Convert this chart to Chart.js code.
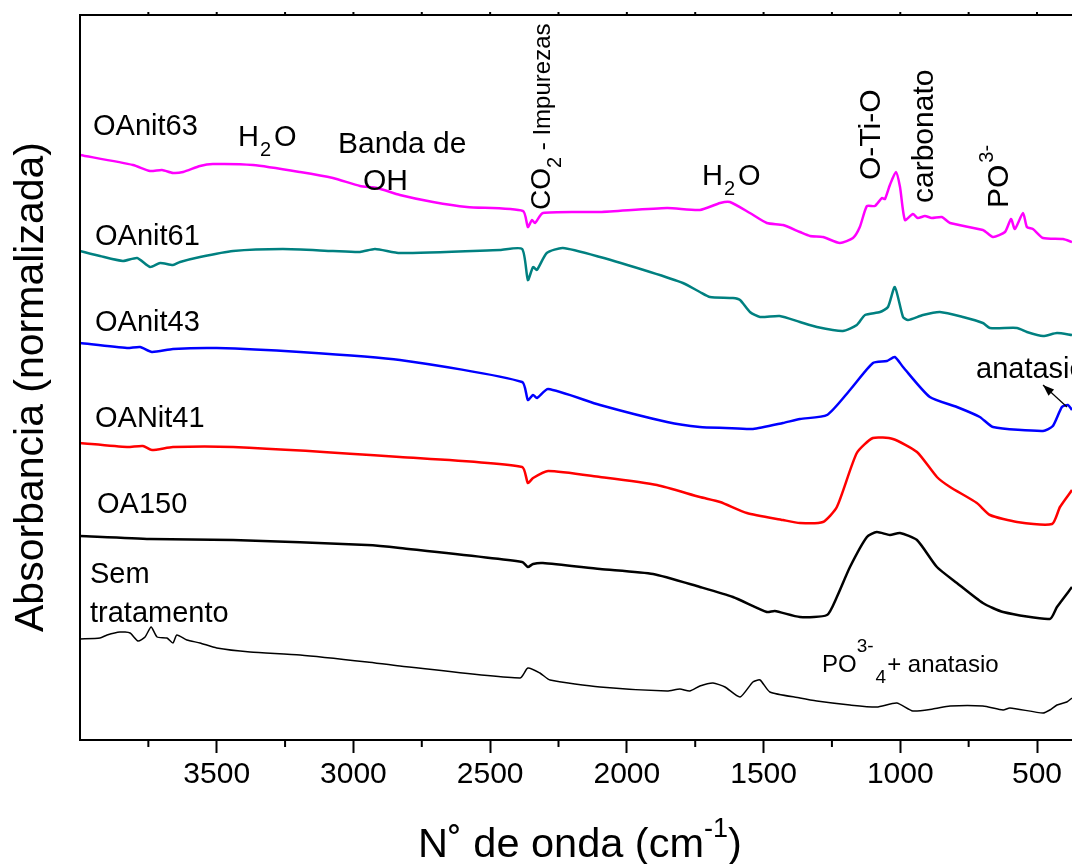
<!DOCTYPE html>
<html>
<head>
<meta charset="utf-8">
<script src="https://cdn.jsdelivr.net/npm/chart.js@4.4.1/dist/chart.umd.min.js"></script>
<style>
  body { margin: 0; background: #fff; }
  canvas { display: block; }
</style>
</head>
<body>
<canvas id="ftirChart" width="1072" height="864"></canvas>
<script>
var FONT = '"Liberation Sans", Arial, sans-serif';

// tick marks of the wavenumber axis
var xTicks = [3500, 3000, 2500, 2000, 1500, 1000, 500];
var xMinorTicks = [3750, 3250, 2750, 2250, 1750, 1250, 750];

// OAnit63 (magenta)
var wn63 = [4000, 3806, 3744, 3700, 3660, 3623, 3561, 3514, 3367, 3195, 3075, 2976, 2914, 2830, 2709, 2585, 2380, 2362, 2347, 2336, 2307, 2098, 1853, 1733, 1659, 1623, 1550, 1488, 1429, 1367, 1330, 1283, 1221, 1173, 1148, 1122, 1093, 1067, 1056, 1038, 1016, 1001, 983, 954, 936, 910, 885, 848, 818, 698, 661, 617, 595, 581, 551, 537, 515, 478, 405, 372];
var ab63 = [5.85, 5.75, 5.69, 5.70, 5.67, 5.68, 5.74, 5.76, 5.75, 5.68, 5.62, 5.54, 5.52, 5.45, 5.38, 5.33, 5.29, 5.13, 5.20, 5.17, 5.27, 5.28, 5.32, 5.30, 5.37, 5.38, 5.27, 5.17, 5.15, 5.08, 5.04, 5.03, 4.97, 5.02, 5.13, 5.34, 5.34, 5.42, 5.41, 5.55, 5.68, 5.53, 5.20, 5.26, 5.22, 5.24, 5.22, 5.23, 5.17, 5.10, 5.03, 5.08, 5.21, 5.11, 5.27, 5.13, 5.11, 5.02, 5.01, 4.98];

// OAnit61 (teal)
var wn61 = [4000, 3927, 3843, 3791, 3744, 3707, 3660, 3634, 3561, 3440, 3258, 3075, 2976, 2921, 2830, 2464, 2383, 2362, 2343, 2329, 2293, 2234, 2098, 1915, 1795, 1733, 1696, 1612, 1586, 1550, 1513, 1441, 1367, 1305, 1210, 1159, 1129, 1074, 1045, 1020, 990, 972, 917, 855, 771, 698, 672, 573, 537, 478, 427, 372];
var ab61 = [4.89, 4.84, 4.79, 4.82, 4.73, 4.77, 4.75, 4.78, 4.83, 4.89, 4.91, 4.89, 4.88, 4.91, 4.87, 4.90, 4.91, 4.60, 4.73, 4.70, 4.87, 4.92, 4.83, 4.68, 4.57, 4.48, 4.43, 4.42, 4.40, 4.28, 4.23, 4.24, 4.18, 4.13, 4.09, 4.15, 4.25, 4.28, 4.33, 4.53, 4.23, 4.20, 4.25, 4.28, 4.23, 4.17, 4.12, 4.12, 4.08, 4.04, 4.07, 4.05];

// OAnit43 (blue)
var wn43 = [4000, 3828, 3780, 3737, 3660, 3500, 3195, 2830, 2383, 2362, 2343, 2329, 2288, 2098, 1853, 1733, 1640, 1539, 1429, 1367, 1268, 1184, 1100, 1049, 1020, 990, 892, 793, 709, 661, 478, 442, 409, 387, 372];
var ab43 = [3.97, 3.92, 3.93, 3.88, 3.91, 3.92, 3.88, 3.80, 3.58, 3.40, 3.45, 3.42, 3.51, 3.35, 3.18, 3.13, 3.12, 3.11, 3.17, 3.21, 3.25, 3.50, 3.77, 3.79, 3.83, 3.73, 3.43, 3.33, 3.23, 3.13, 3.09, 3.14, 3.33, 3.35, 3.30];

// OANit41 (red)
var wn41 = [4000, 3828, 3770, 3737, 3660, 3440, 2830, 2383, 2362, 2343, 2288, 2098, 1890, 1733, 1659, 1561, 1429, 1367, 1283, 1232, 1159, 1100, 1027, 939, 866, 818, 720, 672, 573, 445, 416, 372];
var ab41 = [2.97, 2.93, 2.94, 2.90, 2.93, 2.93, 2.83, 2.73, 2.57, 2.62, 2.69, 2.63, 2.55, 2.43, 2.38, 2.27, 2.20, 2.17, 2.18, 2.33, 2.87, 3.02, 3.01, 2.88, 2.63, 2.53, 2.37, 2.25, 2.18, 2.16, 2.33, 2.50];

// OA150 (black)
var wn150 = [4000, 3744, 3440, 2950, 2830, 2383, 2362, 2343, 2307, 2098, 1904, 1733, 1612, 1488, 1459, 1367, 1268, 1232, 1184, 1122, 1086, 1038, 1001, 939, 866, 793, 698, 624, 453, 427, 372];
var ab150 = [2.04, 2.01, 2.00, 1.95, 1.92, 1.78, 1.73, 1.76, 1.77, 1.71, 1.66, 1.53, 1.43, 1.28, 1.29, 1.23, 1.25, 1.43, 1.73, 2.03, 2.08, 2.05, 2.07, 2.00, 1.73, 1.57, 1.37, 1.28, 1.21, 1.33, 1.53];

// Sem tratamento (thin black)
var wnSem = [4000, 3927, 3901, 3854, 3817, 3788, 3762, 3740, 3718, 3682, 3660, 3646, 3609, 3561, 3500, 3378, 3195, 2950, 2830, 2391, 2362, 2318, 2281, 2098, 1853, 1806, 1770, 1733, 1685, 1641, 1586, 1539, 1513, 1477, 1367, 1305, 1184, 1086, 1013, 954, 881, 818, 698, 624, 599, 478, 453, 427, 391, 372];
var abSem = [1.01, 1.02, 1.05, 1.08, 1.07, 0.99, 1.03, 1.13, 1.03, 1.02, 0.97, 1.05, 1.00, 0.97, 0.92, 0.88, 0.85, 0.78, 0.74, 0.62, 0.72, 0.67, 0.60, 0.53, 0.49, 0.51, 0.49, 0.54, 0.57, 0.53, 0.43, 0.58, 0.60, 0.48, 0.42, 0.39, 0.35, 0.33, 0.37, 0.29, 0.31, 0.34, 0.34, 0.30, 0.32, 0.27, 0.30, 0.35, 0.38, 0.42];

function pts(wn, ab) {
  return wn.map(function (w, i) { return { x: w, y: ab[i] }; });
}

function line(label, wn, ab, color, width) {
  return {
    label: label,
    data: pts(wn, ab),
    borderColor: color,
    borderWidth: width,
    pointRadius: 0,
    fill: false,
    tension: 0.2
  };
}

// draws a run of text pieces (sub/superscripts) along the baseline
function rich(ctx, x, y, parts, rotate) {
  ctx.save();
  ctx.translate(x, y);
  if (rotate) ctx.rotate(-Math.PI / 2);
  ctx.fillStyle = '#000';
  ctx.textBaseline = 'alphabetic';
  ctx.textAlign = 'left';
  var u = 0;
  parts.forEach(function (p) {
    ctx.font = p.s + 'px ' + FONT;
    u += p.gap || 0;
    ctx.fillText(p.t, u, p.dy || 0);
    u += ctx.measureText(p.t).width;
  });
  ctx.restore();
}

var decorations = {
  id: 'decorations',
  afterDraw: function (chart) {
    var ctx = chart.ctx;
    var a = chart.chartArea;
    var xs = chart.scales.x;

    ctx.save();
    ctx.strokeStyle = '#000';
    ctx.lineWidth = 2;
    ctx.beginPath();
    ctx.moveTo(a.left, a.bottom);
    ctx.lineTo(a.left, a.top);
    ctx.lineTo(a.right, a.top);
    ctx.stroke();

    // minor ticks below, small ticks above
    ctx.beginPath();
    xMinorTicks.forEach(function (v) {
      var px = xs.getPixelForValue(v);
      ctx.moveTo(px, a.bottom);
      ctx.lineTo(px, a.bottom + 7);
    });
    xTicks.concat(xMinorTicks).forEach(function (v) {
      var px = xs.getPixelForValue(v);
      ctx.moveTo(px, a.top);
      ctx.lineTo(px, a.top - 3);
    });
    ctx.stroke();
    ctx.restore();

    // axis titles
    ctx.save();
    ctx.fillStyle = '#000';
    ctx.translate(43, 387);
    ctx.rotate(-Math.PI / 2);
    ctx.font = '41px ' + FONT;
    ctx.textAlign = 'center';
    ctx.fillText('Absorbancia (normalizada)', 0, 0);
    ctx.restore();

    rich(ctx, 418, 857, [
      { t: 'N\u02DA de onda (cm', s: 41.5 },
      { t: '-1', s: 27, dy: -20 },
      { t: ')', s: 41.5 }
    ]);

    // sample names
    rich(ctx, 93, 135, [{ t: 'OAnit63', s: 29 }]);
    rich(ctx, 95, 245, [{ t: 'OAnit61', s: 29 }]);
    rich(ctx, 95, 331, [{ t: 'OAnit43', s: 29 }]);
    rich(ctx, 95, 427, [{ t: 'OANit41', s: 29 }]);
    rich(ctx, 97, 513, [{ t: 'OA150', s: 29 }]);
    rich(ctx, 90, 583, [{ t: 'Sem', s: 29 }]);
    rich(ctx, 90, 622, [{ t: 'tratamento', s: 29 }]);

    // band assignments
    rich(ctx, 238, 146, [{ t: 'H', s: 29 }, { t: '2', s: 20, dy: 10, gap: 1 }, { t: 'O', s: 29, gap: 3 }]);
    rich(ctx, 338, 153, [{ t: 'Banda de', s: 30 }]);
    rich(ctx, 363, 190, [{ t: 'OH', s: 30 }]);
    rich(ctx, 702, 185, [{ t: 'H', s: 29 }, { t: '2', s: 20, dy: 10, gap: 1 }, { t: 'O', s: 29, gap: 3 }]);
    rich(ctx, 550, 210, [{ t: 'CO', s: 28 }, { t: '2', s: 20, dy: 11 }, { t: ' - Impurezas', s: 24 }], true);
    rich(ctx, 880, 180, [{ t: 'O-Ti-O', s: 30 }], true);
    rich(ctx, 933, 203, [{ t: 'carbonato', s: 30 }], true);
    rich(ctx, 1008, 208, [{ t: 'PO', s: 30 }, { t: '3-', s: 20, dy: -15, gap: 2 }], true);
    rich(ctx, 822, 672, [
      { t: 'PO', s: 24 },
      { t: '3-', s: 19, dy: -20 },
      { t: '4', s: 19, dy: 11, gap: 2 },
      { t: '+ anatasio', s: 24, gap: 1 }
    ]);
    rich(ctx, 976, 378, [{ t: 'anatasio', s: 29 }]);

    // arrow to the anatase band
    ctx.save();
    ctx.strokeStyle = '#000';
    ctx.fillStyle = '#000';
    ctx.lineWidth = 1.2;
    var x0 = 1067, y0 = 407, x1 = 1043, y1 = 385;
    var ang = Math.atan2(y1 - y0, x1 - x0);
    ctx.beginPath();
    ctx.moveTo(x0, y0);
    ctx.lineTo(x1, y1);
    ctx.stroke();
    ctx.beginPath();
    ctx.moveTo(x1, y1);
    ctx.lineTo(x1 - 12 * Math.cos(ang - 0.35), y1 - 12 * Math.sin(ang - 0.35));
    ctx.lineTo(x1 - 12 * Math.cos(ang + 0.35), y1 - 12 * Math.sin(ang + 0.35));
    ctx.closePath();
    ctx.fill();
    ctx.restore();
  }
};

var ctx = document.getElementById('ftirChart').getContext('2d');
var chart = new Chart(ctx, {
  type: 'line',
  data: {
    datasets: [
      line('OAnit63', wn63, ab63, '#ff00ff', 2.5),
      line('OAnit61', wn61, ab61, '#008080', 2.5),
      line('OAnit43', wn43, ab43, '#0000ff', 2.5),
      line('OANit41', wn41, ab41, '#ff0000', 2.5),
      line('OA150', wn150, ab150, '#000000', 2.5),
      line('Sem tratamento', wnSem, abSem, '#000000', 1.5)
    ]
  },
  options: {
    responsive: false,
    animation: false,
    layout: { padding: { left: 80, top: 15, right: 0, bottom: 0 } },
    plugins: { legend: { display: false }, tooltip: { enabled: false } },
    scales: {
      x: {
        type: 'linear',
        reverse: true,
        min: 372,
        max: 4000,
        afterBuildTicks: function (s) {
          s.ticks = xTicks.map(function (v) { return { value: v }; });
        },
        afterFit: function (s) { s.height = 124; },
        grid: { drawOnChartArea: false, tickLength: 13, tickWidth: 2, tickColor: '#000', color: '#000' },
        border: { display: true, color: '#000', width: 2 },
        ticks: {
          color: '#000',
          padding: 4,
          maxRotation: 0,
          autoSkip: false,
          font: { family: FONT, size: 30 },
          callback: function (v) { return String(v); }
        }
      },
      y: { display: false, min: 0, max: 7.25 }
    }
  },
  plugins: [decorations]
});
</script>
</body>
</html>
